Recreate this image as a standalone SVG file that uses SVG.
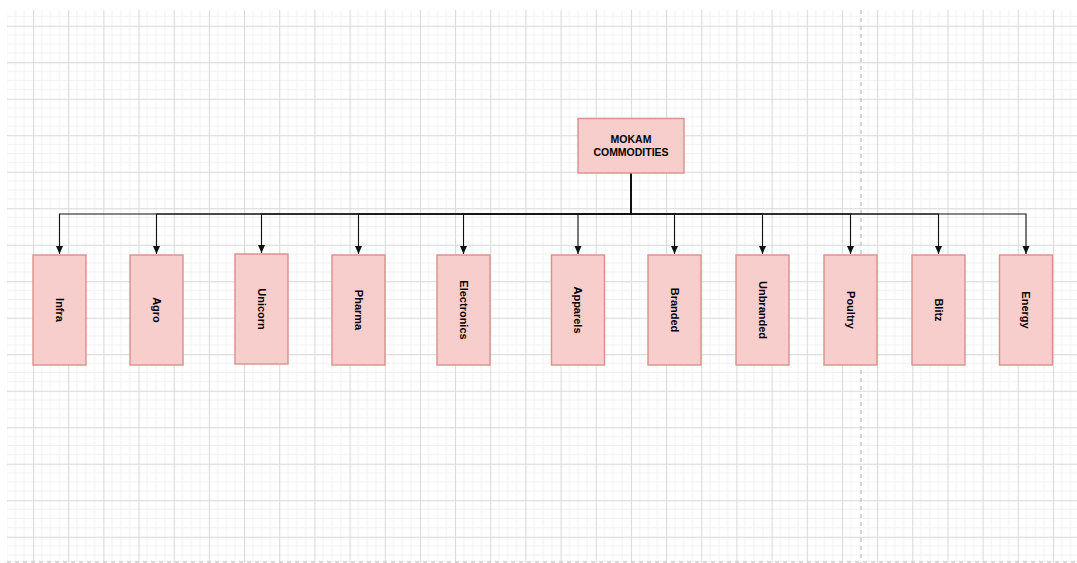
<svg xmlns="http://www.w3.org/2000/svg" width="1077" height="563" viewBox="0 0 1077 563">
  <style>
    .box { fill: #f8cecc; stroke: #d9918c; stroke-width: 1.4; }
    .lbl { font-family: "Liberation Sans", Arial, sans-serif; font-weight: bold; font-size: 11px; fill: #000; text-anchor: middle; }
    .edge { fill: none; stroke: #111; stroke-width: 1.1; }
    .minor { stroke: #f1f1f1; stroke-width: 1; }
    .major { stroke: #dadada; stroke-width: 1.2; }
    .page { stroke: #c4c4c4; stroke-width: 1.3; stroke-dasharray: 4 4; fill: none; }
  </style>
  <defs>
    <pattern id="grid" patternUnits="userSpaceOnUse" x="33" y="25.7" width="35.17" height="36.5">
      <line class="minor" x1="8.79" y1="0" x2="8.79" y2="36.5"/>
      <line class="minor" x1="17.58" y1="0" x2="17.58" y2="36.5"/>
      <line class="minor" x1="26.38" y1="0" x2="26.38" y2="36.5"/>
      <line class="minor" x1="0" y1="9.12" x2="35.17" y2="9.12"/>
      <line class="minor" x1="0" y1="18.25" x2="35.17" y2="18.25"/>
      <line class="minor" x1="0" y1="27.37" x2="35.17" y2="27.37"/>
      <rect x="0" y="0" width="1.1" height="36.5" fill="#dadada"/>
      <rect x="0" y="0" width="35.17" height="1.1" fill="#dadada"/>
    </pattern>
    <marker id="arrow" markerUnits="userSpaceOnUse" markerWidth="8" markerHeight="8" refX="8" refY="3.5" orient="auto">
      <path d="M0,0 L8,3.5 L0,7 Z" fill="#111"/>
    </marker>
  </defs>

  <!-- canvas background and grid -->
  <rect x="0" y="0" width="1077" height="563" fill="#ffffff"/>
  <rect x="7" y="10" width="1070" height="553" fill="url(#grid)"/>

  <!-- page break guides -->
  <line class="page" x1="861" y1="10" x2="861" y2="563"/>
  <line class="page" x1="7" y1="561.8" x2="1077" y2="561.8"/>

  <!-- connectors -->
  <g id="connectors">
    <path class="edge" d="M631,173 V214 H59.5 V254" marker-end="url(#arrow)"/>
    <path class="edge" d="M631,173 V214 H156.5 V254" marker-end="url(#arrow)"/>
    <path class="edge" d="M631,173 V214 H261.5 V253" marker-end="url(#arrow)"/>
    <path class="edge" d="M631,173 V214 H358.5 V254" marker-end="url(#arrow)"/>
    <path class="edge" d="M631,173 V214 H463.5 V254" marker-end="url(#arrow)"/>
    <path class="edge" d="M631,173 V214 H578 V254" marker-end="url(#arrow)"/>
    <path class="edge" d="M631,173 V214 H674.5 V254" marker-end="url(#arrow)"/>
    <path class="edge" d="M631,173 V214 H762.5 V254" marker-end="url(#arrow)"/>
    <path class="edge" d="M631,173 V214 H850.5 V254" marker-end="url(#arrow)"/>
    <path class="edge" d="M631,173 V214 H938.5 V254" marker-end="url(#arrow)"/>
    <path class="edge" d="M631,173 V214 H1026 V254" marker-end="url(#arrow)"/>
  </g>

  <!-- root node -->
  <g id="mokam">
    <rect class="box" x="578" y="118.5" width="106" height="54.5"/>
    <text class="lbl" style="font-size:10.5px" x="631" y="142.7">MOKAM</text>
    <text class="lbl" style="font-size:10.5px" x="631" y="156">COMMODITIES</text>
  </g>

  <!-- business units -->
  <g id="infra">
    <rect class="box" x="33" y="255" width="53" height="110"/>
    <text class="lbl" transform="translate(59.5,310) rotate(90)" dy="0.36em">Infra</text>
  </g>
  <g id="agro">
    <rect class="box" x="130" y="255" width="53" height="110"/>
    <text class="lbl" transform="translate(156.5,310) rotate(90)" dy="0.36em">Agro</text>
  </g>
  <g id="unicorn">
    <rect class="box" x="235" y="254" width="53" height="110"/>
    <text class="lbl" transform="translate(261.5,309) rotate(90)" dy="0.36em">Unicorn</text>
  </g>
  <g id="pharma">
    <rect class="box" x="332" y="255" width="53" height="110"/>
    <text class="lbl" transform="translate(358.5,310) rotate(90)" dy="0.36em">Pharma</text>
  </g>
  <g id="electronics">
    <rect class="box" x="437" y="255" width="53" height="110"/>
    <text class="lbl" transform="translate(463.5,310) rotate(90)" dy="0.36em">Electronics</text>
  </g>
  <g id="apparels">
    <rect class="box" x="551.5" y="255" width="53" height="110"/>
    <text class="lbl" transform="translate(578,310) rotate(90)" dy="0.36em">Apparels</text>
  </g>
  <g id="branded">
    <rect class="box" x="648" y="255" width="53" height="110"/>
    <text class="lbl" transform="translate(674.5,310) rotate(90)" dy="0.36em">Branded</text>
  </g>
  <g id="unbranded">
    <rect class="box" x="736" y="255" width="53" height="110"/>
    <text class="lbl" transform="translate(762.5,310) rotate(90)" dy="0.36em">Unbranded</text>
  </g>
  <g id="poultry">
    <rect class="box" x="824" y="255" width="53" height="110"/>
    <text class="lbl" transform="translate(850.5,310) rotate(90)" dy="0.36em">Poultry</text>
  </g>
  <g id="blitz">
    <rect class="box" x="912" y="255" width="53" height="110"/>
    <text class="lbl" transform="translate(938.5,310) rotate(90)" dy="0.36em">Blitz</text>
  </g>
  <g id="energy">
    <rect class="box" x="999.5" y="255" width="53" height="110"/>
    <text class="lbl" transform="translate(1026,310) rotate(90)" dy="0.36em">Energy</text>
  </g>
</svg>
